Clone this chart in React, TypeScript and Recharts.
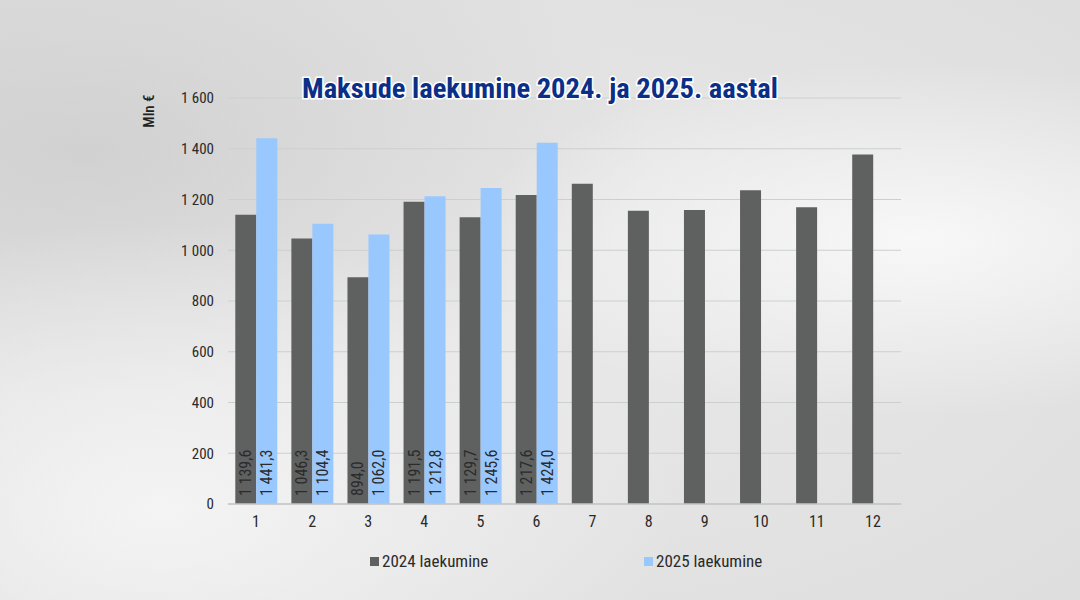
import React from 'react';
import { BarChart, Bar, XAxis, YAxis, CartesianGrid, Legend, LabelList } from 'recharts';

const months = ['1', '2', '3', '4', '5', '6', '7', '8', '9', '10', '11', '12'];
const receipts2024 = [1139.6, 1046.3, 894.0, 1191.5, 1129.7, 1217.6, 1262, 1156, 1159, 1236, 1169, 1377];
const receipts2025: (number | null)[] = [1441.3, 1104.4, 1062.0, 1212.8, 1245.6, 1424.0, null, null, null, null, null, null];
const yTicks = [0, 200, 400, 600, 800, 1000, 1200, 1400, 1600];
const seriesNames = ['2024 laekumine', '2025 laekumine'];
const titleText = 'Maksude laekumine 2024. ja 2025. aastal';
const yUnit = 'Mln €';

const data = months.map((m, i) => ({ month: m, y2024: receipts2024[i], y2025: receipts2025[i] }));

const FONT = "'Roboto Condensed', 'Liberation Sans Narrow', 'Arial Narrow', 'DejaVu Sans Condensed', Roboto, sans-serif";
const DARK = '#5f6160';
const BLUE = '#99c8ff';

const fmtInt = (v: number) => {
  const s = Math.round(v).toString();
  return s.replace(/\B(?=(\d{3})+(?!\d))/g, ' ');
};
const fmtDec = (v: number) => {
  const [i, d] = v.toFixed(1).split('.');
  return i.replace(/\B(?=(\d{3})+(?!\d))/g, ' ') + ',' + d;
};

const BarValueLabel = (props: any) => {
  const { x, y, width, height, value } = props;
  if (value === null || value === undefined) return null;
  const cx = Number(x) + Number(width) / 2;
  const by = Number(y) + Number(height) - 8;
  return (
    <text
      x={cx}
      y={by}
      transform={`rotate(-90 ${cx} ${by})`}
      textAnchor="start"
      dominantBaseline="central"
      fontFamily={FONT}
      fontSize={16}
      fill="#2b2b2b"
    >
      {fmtDec(Number(value))}
    </text>
  );
};

const LegendContent = () => {
  const items = [
    { name: seriesNames[0], color: DARK, left: 370 },
    { name: seriesNames[1], color: BLUE, left: 644 },
  ];
  return (
    <div style={{ position: 'relative', height: 22, width: '100%' }}>
      {items.map((it) => (
        <div
          key={it.name}
          style={{
            position: 'absolute',
            left: it.left,
            top: 0,
            display: 'flex',
            alignItems: 'center',
            fontFamily: FONT,
            fontSize: 17,
            lineHeight: '22px',
            color: '#2a2a2a',
            whiteSpace: 'nowrap',
          }}
        >
          <span style={{ display: 'inline-block', width: 9, height: 9, background: it.color, marginRight: 3 }} />
          {it.name}
        </div>
      ))}
    </div>
  );
};

export default function App() {
  return (
    <div
      style={{
        position: 'absolute',
        left: 0,
        top: 0,
        width: 1080,
        height: 600,
        overflow: 'hidden',
        background:
          'radial-gradient(ellipse at 85% 40%, rgba(250,250,250,0.9) 0%, rgba(250,250,250,0) 35%),' +
          'radial-gradient(ellipse at 15% 85%, rgba(246,246,246,0.9) 0%, rgba(246,246,246,0) 40%),' +
          'radial-gradient(ellipse at 8% 25%, rgba(205,205,205,0.8) 0%, rgba(205,205,205,0) 40%),' +
          'radial-gradient(ellipse at 50% 50%, #e9e9e9 0%, #dedede 100%)',
      }}
    >
      <BarChart
        width={1080}
        height={600}
        data={data}
        margin={{ top: 98, right: 179, left: 150, bottom: 66 }}
        barGap={0}
        barCategoryGap="13%"
      >
        <CartesianGrid vertical={false} stroke="#cdcfcf" strokeWidth={1.2} />
        <XAxis
          dataKey="month"
          axisLine={{ stroke: '#c4c6c6', strokeWidth: 1.5 }}
          tickLine={false}
          tickSize={0}
          tickMargin={12}
          height={30}
          tick={{ fontFamily: FONT, fontSize: 16, fill: '#2a2a2a' }}
        />
        <YAxis
          width={78}
          domain={[0, 1600]}
          ticks={yTicks}
          axisLine={false}
          tickLine={false}
          tickSize={0}
          tickMargin={14}
          tickFormatter={(v: number) => fmtInt(v)}
          tick={{ fontFamily: FONT, fontSize: 15, fill: '#2a2a2a' }}
        />
        <Legend
          layout="horizontal"
          verticalAlign="middle"
          align="center"
          wrapperStyle={{ top: 550, left: 0, width: 1080 }}
          content={() => <LegendContent />}
        />
        <Bar dataKey="y2024" name={seriesNames[0]} fill={DARK} isAnimationActive={false}>
          <LabelList dataKey="y2024" content={(p: any) => (Number(p.index) < 6 ? <BarValueLabel {...p} /> : null)} />
        </Bar>
        <Bar dataKey="y2025" name={seriesNames[1]} fill={BLUE} isAnimationActive={false}>
          <LabelList dataKey="y2025" content={(p: any) => <BarValueLabel {...p} />} />
        </Bar>
      </BarChart>
      <svg
        width={1080}
        height={600}
        style={{ position: 'absolute', left: 0, top: 0, pointerEvents: 'none' }}
      >
        <text
          x={540}
          y={98}
          textAnchor="middle"
          textLength={476}
          lengthAdjust="spacingAndGlyphs"
          fontFamily={FONT}
          fontWeight={700}
          fontSize={28}
          fill="#0b2f86"
          stroke="#ffffff"
          strokeWidth={3}
          paintOrder="stroke"
        >
          {titleText}
        </text>
        <text
          x={154}
          y={111}
          transform="rotate(-90 154 111)"
          textAnchor="middle"
          fontFamily={FONT}
          fontWeight={500}
          fontSize={15}
          fill="#222"
        >
          {yUnit}
        </text>
      </svg>
    </div>
  );
}
